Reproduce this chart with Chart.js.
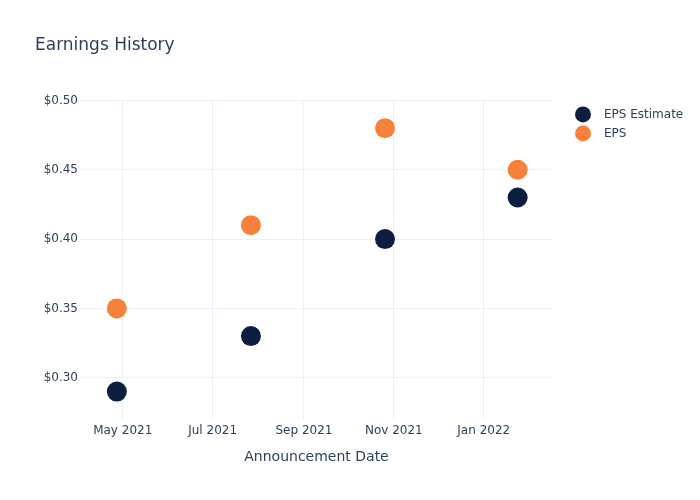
<!DOCTYPE html>
<html>
<head>
<meta charset="utf-8">
<script src="https://cdn.jsdelivr.net/npm/chart.js@4.4.1/dist/chart.umd.min.js"></script>
<style>
    html, body { margin: 0; padding: 0; background: #ffffff; }
    #wrap { width: 700px; height: 500px; }
</style>
</head>
<body>
<div id="wrap"><canvas id="chart" width="700" height="500"></canvas></div>
<script>
// Chart data
const announceDates = ['2021-04-27', '2021-07-27', '2021-10-26', '2022-01-24'];
const epsEstimate = [0.29, 0.33, 0.40, 0.43];
const epsActual = [0.35, 0.41, 0.48, 0.45];
const xTickDates = ['2021-05-01', '2021-07-01', '2021-09-01', '2021-11-01', '2022-01-01'];
const yTicks = [0.30, 0.35, 0.40, 0.45, 0.50];
const MONTHS = ['Jan', 'Feb', 'Mar', 'Apr', 'May', 'Jun', 'Jul', 'Aug', 'Sep', 'Oct', 'Nov', 'Dec'];

const COLORS = {
    navy: '#0c1f41',
    orange: '#f7803b',
    text: '#2a3f5f',
    grid: '#ebf0f8'
};

const toTime = s => Date.parse(s + 'T00:00:00Z');
const toPoints = vals => vals.map((v, i) => ({ x: toTime(announceDates[i]), y: v }));

function monthLabel(t) {
    const d = new Date(t);
    return MONTHS[d.getUTCMonth()] + ' ' + d.getUTCFullYear();
}

// Legend drawn to the right of the plot, plotly style
const sideLegend = {
    id: 'sideLegend',
    afterDraw(chart) {
        const ctx = chart.ctx;
        const x = chart.chartArea.right + 30;
        ctx.save();
        ctx.font = '12px "DejaVu Sans", Verdana, sans-serif';
        ctx.textBaseline = 'middle';
        ctx.textAlign = 'left';
        chart.data.datasets.forEach((ds, i) => {
            const y = chart.chartArea.top + 14 + i * 19;
            ctx.fillStyle = ds.backgroundColor;
            ctx.beginPath();
            ctx.arc(x, y, 8, 0, Math.PI * 2);
            ctx.fill();
            ctx.fillStyle = COLORS.text;
            ctx.fillText(ds.label, x + 21, y);
        });
        ctx.restore();
    }
};

Chart.defaults.font.family = '"DejaVu Sans", Verdana, sans-serif';
Chart.defaults.color = COLORS.text;

new Chart(document.getElementById('chart').getContext('2d'), {
    type: 'scatter',
    data: {
        datasets: [
            {
                label: 'EPS Estimate',
                data: toPoints(epsEstimate),
                backgroundColor: COLORS.navy,
                borderWidth: 0,
                pointRadius: 10,
                pointHoverRadius: 10
            },
            {
                label: 'EPS',
                data: toPoints(epsActual),
                backgroundColor: COLORS.orange,
                borderWidth: 0,
                pointRadius: 10,
                pointHoverRadius: 10
            }
        ]
    },
    options: {
        responsive: false,
        animation: false,
        layout: { padding: { left: 35, right: 147, top: 0, bottom: 0 } },
        plugins: {
            title: {
                display: true,
                text: 'Earnings History',
                align: 'start',
                color: COLORS.text,
                font: { size: 17, weight: 'normal' },
                padding: { top: 35, bottom: 45 }
            },
            legend: { display: false },
            tooltip: { enabled: false }
        },
        scales: {
            x: {
                type: 'linear',
                min: toTime('2021-04-02'),
                max: toTime('2022-02-17'),
                afterBuildTicks: scale => {
                    scale.ticks = xTickDates.map(s => ({ value: toTime(s) }));
                },
                afterFit: scale => { scale.height = 80; },
                grid: { color: COLORS.grid, drawTicks: false },
                border: { display: false },
                ticks: {
                    padding: 4,
                    color: COLORS.text,
                    font: { size: 12 },
                    maxRotation: 0,
                    callback: v => monthLabel(v)
                },
                title: {
                    display: true,
                    text: 'Announcement Date',
                    color: COLORS.text,
                    font: { size: 14 },
                    padding: { top: 8, bottom: 34 }
                }
            },
            y: {
                min: 0.2695,
                max: 0.50,
                afterBuildTicks: scale => {
                    scale.ticks = yTicks.map(v => ({ value: v }));
                },
                afterFit: scale => { scale.width = 45; },
                grid: { color: COLORS.grid, drawTicks: false },
                border: { display: false },
                ticks: {
                    padding: 2,
                    color: COLORS.text,
                    font: { size: 12 },
                    callback: v => '$' + Number(v).toFixed(2)
                }
            }
        }
    },
    plugins: [sideLegend]
});
</script>
</body>
</html>
